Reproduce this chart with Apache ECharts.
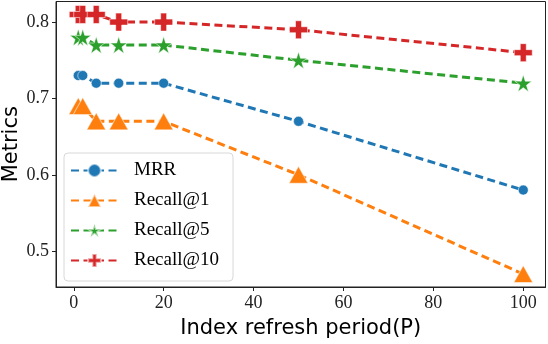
<!DOCTYPE html>
<html>
<head>
<meta charset="utf-8">
<script src="https://cdn.jsdelivr.net/npm/echarts@6/dist/echarts.min.js"></script>
<style>html,body{margin:0;padding:0;background:#fff}#c{width:548px;height:344px}</style>
</head>
<body>
<div id="c"></div>
<script>
const periods = [1, 2, 5, 10, 20, 50, 100];
const mrr = [0.73, 0.73, 0.72, 0.72, 0.72, 0.67, 0.58];
const recall1 = [0.69, 0.69, 0.67, 0.67, 0.67, 0.60, 0.47];
const recall5 = [0.78, 0.78, 0.77, 0.77, 0.77, 0.75, 0.72];
const recall10 = [0.81, 0.81, 0.81, 0.80, 0.80, 0.79, 0.76];
const xTicks = [0, 20, 40, 60, 80, 100];
const yTicks = [0.5, 0.6, 0.7, 0.8];
const seriesNames = ['MRR', 'Recall@1', 'Recall@5', 'Recall@10'];
const colors = ['#1f77b4', '#ff7f0e', '#2ca02c', '#d62728'];

const STAR = 'path://M50,0L61.2,34.6L97.6,34.5L68.1,55.9L79.4,90.5L50,69L20.6,90.5L31.9,55.9L2.4,34.5L38.8,34.6Z';
const PLUS = 'path://M4,0H8V4H12V8H8V12H4V8H0V4H4Z';
const symbols = ['circle', 'triangle', STAR, PLUS];
const sizes = [10, [19, 17], 17, 18];
const values = [mrr, recall1, recall5, recall10];

const chart = echarts.init(document.getElementById('c'), null, {renderer: 'canvas'});
const serif = 'Liberation Serif';
chart.setOption({
  animation: false,
  color: colors,
  grid: {left: 56, right: 2.5, top: 1.5, bottom: 57, show: true, borderColor: '#222', borderWidth: 1, backgroundColor: 'transparent', containLabel: false, outerBoundsMode: 'none'},
  legend: {
    orient: 'vertical', left: 64, top: 153,
    itemWidth: 47, itemHeight: 16, itemGap: 11,
    padding: [8, 14, 11, 6],
    backgroundColor: 'rgba(255,255,255,0.85)', borderColor: '#d8d8d8', borderWidth: 1, borderRadius: 4,
    textStyle: {fontFamily: serif, fontSize: 19, color: '#000', padding: [0, 0, 0, 11]},
    data: seriesNames
  },
  xAxis: {
    type: 'value', min: -3.95, max: 104.95,
    name: 'Index refresh period(P)', nameLocation: 'middle', nameGap: 31,
    nameTextStyle: {fontFamily: 'DejaVu Sans', fontSize: 21, color: '#000'},
    axisLine: {show: true, onZero: false, lineStyle: {color: '#222', width: 1}},
    axisTick: {show: true, length: 4, lineStyle: {color: '#222'}, customValues: xTicks},
    axisLabel: {fontFamily: serif, fontSize: 18, color: '#222', margin: 7, customValues: xTicks},
    splitLine: {show: false}
  },
  yAxis: {
    type: 'value', min: 0.453, max: 0.827,
    name: 'Metrics', nameLocation: 'middle', nameGap: 34, nameMoveOverlap: false,
    nameTextStyle: {fontFamily: 'DejaVu Sans', fontSize: 21, color: '#000'},
    axisLine: {show: true, onZero: false, lineStyle: {color: '#222', width: 1}},
    axisTick: {show: true, length: 4, lineStyle: {color: '#222'}, customValues: yTicks},
    axisLabel: {fontFamily: serif, fontSize: 18, color: '#222', margin: 7, customValues: yTicks, formatter: v => v.toFixed(1)},
    splitLine: {show: false}
  },
  series: seriesNames.map((name, i) => ({
    name: name, type: 'line',
    data: periods.map((p, j) => [p, values[i][j]]),
    symbol: symbols[i], symbolSize: sizes[i], showAllSymbol: true,
    lineStyle: {width: 3, type: [8, 4.5], color: colors[i]},
    itemStyle: {color: colors[i], borderColor: 'rgba(255,255,255,0.55)', borderWidth: 1},
    clip: false, z: 2 + i
  }))
});
</script>
</body>
</html>
